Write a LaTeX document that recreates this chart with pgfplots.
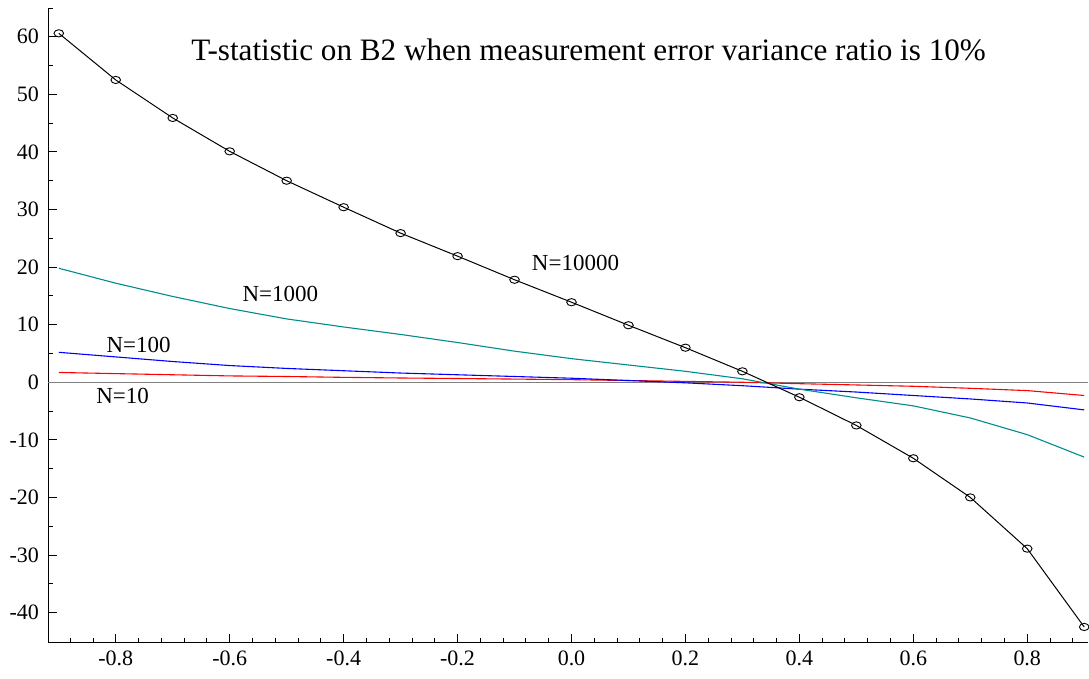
\documentclass[border=0pt]{standalone}
\usepackage{fontspec}
\setmainfont{Liberation Serif}
\usepackage{pgfplots}
\pgfplotsset{compat=1.18}
\definecolor{tealc}{RGB}{0,140,140}
\begin{document}
\begin{tikzpicture}
\begin{axis}[
  scale only axis,
  width=520.5pt, height=317.5pt,
  xmin=-0.919, xmax=0.907,
  ymin=-45.2, ymax=65,
  axis x line*=bottom, axis y line*=left,
  axis line style={black, line width=0.45pt},
  xtick={-0.8,-0.6,-0.4,-0.2,0,0.2,0.4,0.6,0.8},
  xticklabels={-0.8,-0.6,-0.4,-0.2,0.0,0.2,0.4,0.6,0.8},
  ytick={-40,-30,-20,-10,0,10,20,30,40,50,60},
  yticklabels={-40,-30,-20,-10,0,10,20,30,40,50,60},
  minor xtick={-0.88,-0.84,-0.76,-0.72,-0.68,-0.64,-0.56,-0.52,-0.48,-0.44,-0.36,-0.32,-0.28,-0.24,-0.16,-0.12,-0.08,-0.04,0.04,0.08,0.12,0.16,0.24,0.28,0.32,0.36,0.44,0.48,0.52,0.56,0.64,0.68,0.72,0.76,0.84,0.88},
  minor ytick={-35,-25,-15,-5,5,15,25,35,45,55,65},
  tick align=inside,
  major tick length=4.5pt, minor tick length=2.5pt,
  tick style={black, line width=0.45pt},
  ticklabel style={font=\fontsize{11}{11}\selectfont},
  xticklabel style={yshift=-0.5pt},
  yticklabel style={xshift=-1pt},
  clip=false,
]
\addplot[gray, line width=0.5pt, forget plot] coordinates {(-0.919,0) (0.907,0)};
\addplot[red, line width=0.55pt] coordinates {
(-0.9,1.7) (-0.8,1.5) (-0.7,1.3) (-0.6,1.1) (-0.5,1.0) (-0.4,0.85) (-0.3,0.74) (-0.2,0.65) (-0.1,0.55) (0,0.45) (0.1,0.3) (0.2,0.15) (0.3,0.0) (0.4,-0.25) (0.5,-0.47) (0.6,-0.7) (0.7,-1.05) (0.8,-1.45) (0.9,-2.3)};
\addplot[blue, line width=0.55pt] coordinates {
(-0.9,5.2) (-0.8,4.4) (-0.7,3.6) (-0.6,2.9) (-0.5,2.4) (-0.4,2.0) (-0.3,1.6) (-0.2,1.3) (-0.1,1.0) (0,0.7) (0.1,0.3) (0.2,-0.1) (0.3,-0.6) (0.4,-1.2) (0.5,-1.7) (0.6,-2.3) (0.7,-2.9) (0.8,-3.6) (0.9,-4.8)};
\addplot[tealc, line width=0.55pt] coordinates {
(-0.9,19.8) (-0.8,17.2) (-0.7,14.9) (-0.6,12.8) (-0.5,11.0) (-0.4,9.6) (-0.3,8.3) (-0.2,6.9) (-0.1,5.4) (0,4.1) (0.1,3.0) (0.2,1.9) (0.3,0.6) (0.4,-1.2) (0.5,-2.7) (0.6,-4.1) (0.7,-6.2) (0.8,-9.1) (0.9,-13.0)};
\addplot[black, line width=0.5pt, mark=o, mark size=2.4pt, mark options={yscale=0.75, line width=0.45pt}] coordinates {
(-0.9,60.6) (-0.8,52.5) (-0.7,45.9) (-0.6,40.1) (-0.5,35.0) (-0.4,30.4) (-0.3,25.9) (-0.2,21.9) (-0.1,17.8) (0,13.9) (0.1,9.9) (0.2,6.0) (0.3,1.9) (0.4,-2.6) (0.5,-7.5) (0.6,-13.2) (0.7,-20.0) (0.8,-28.9) (0.9,-42.5)};
\node[font=\fontsize{15.6}{15.6}\selectfont] at (axis cs:0.03,57.7) {T-statistic on B2 when measurement error variance ratio is 10\%};
\node[font=\fontsize{11.5}{11.5}\selectfont] at (axis cs:0.007,20.8) {N=10000};
\node[font=\fontsize{11.5}{11.5}\selectfont] at (axis cs:-0.511,15.4) {N=1000};
\node[font=\fontsize{11.5}{11.5}\selectfont] at (axis cs:-0.76,6.5) {N=100};
\node[font=\fontsize{11.5}{11.5}\selectfont] at (axis cs:-0.788,-2.3) {N=10};
\end{axis}
\path (0,0) ++(-24pt,-18pt) coordinate (bl);
\path (520.5pt,317.5pt) ++(0pt,4pt) coordinate (tr);
\path (bl) rectangle (tr);
\end{tikzpicture}
\end{document}
